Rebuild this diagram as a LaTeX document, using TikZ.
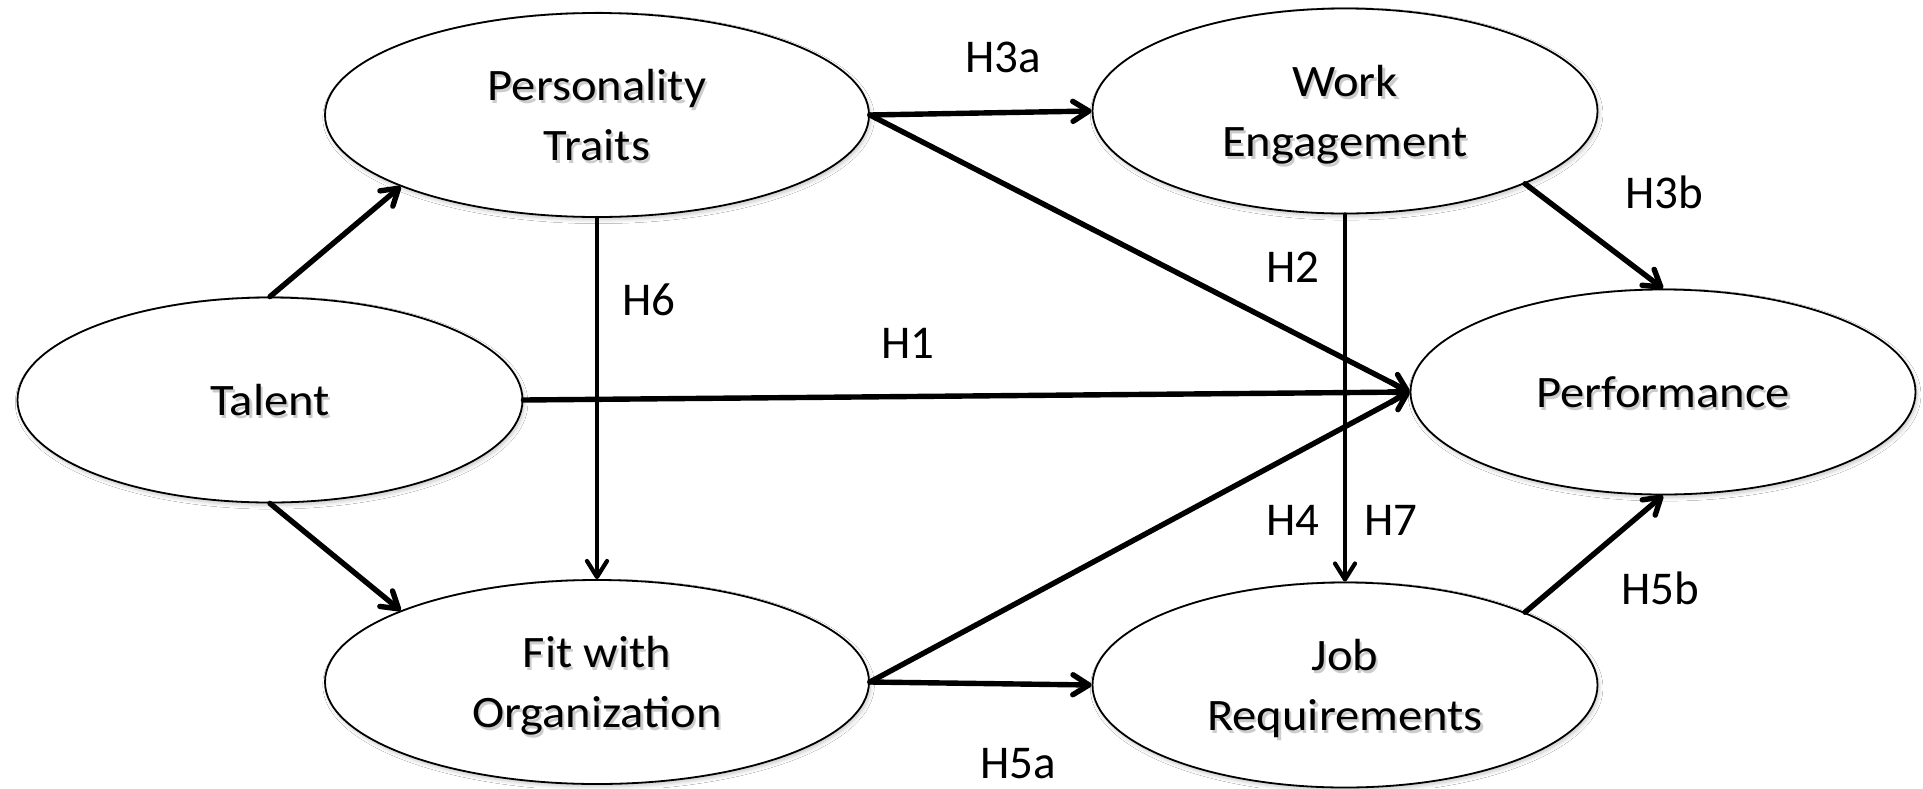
\documentclass[tikz,border=0pt]{standalone}
\usepackage{fontspec}
\setmainfont{Carlito}
\newfontfamily\nodefont[FakeStretch=1.08]{Carlito}
\usetikzlibrary{shapes.geometric,arrows.meta,shadows.blur}

% soft grey copy of a word, set just below and to the right of it
\newcommand\softshadow[1]{\leavevmode\rlap{\kern1.1pt\raisebox{-1.3pt}{\textcolor{black!20}{#1}}}#1}

\begin{document}
\begin{tikzpicture}[x=0.5pt,y=-0.5pt,
  latent/.style={ellipse, draw, line width=0.9pt, fill=white, inner sep=0pt,
    align=center, text depth=0pt,
    font=\nodefont\fontsize{22.5}{30}\selectfont,
    blur shadow={shadow xshift=0.8pt, shadow yshift=-1.4pt,
      shadow blur steps=6, shadow opacity=22}},
  wide/.style={minimum width=272pt, minimum height=102pt},
  narrow/.style={minimum width=252.5pt, minimum height=102.5pt},
  link/.style={line width=2.7pt, line cap=round,
    -{Straight Barb[length=8pt,width=10pt,round]}},
  vlink/.style={link, line width=2.1pt},
  hyp/.style={font=\fontsize{23.5}{28}\selectfont, inner sep=0pt}
]
\fill[white] (0,0) rectangle (1923,788);
\useasboundingbox (0,0) rectangle (1923,788);

% constructs
\node[latent,wide]   (pers) at (597,115)  {\softshadow{Personality}\\\softshadow{Traits}};
\node[latent,wide]   (fit)  at (597,682)  {\softshadow{Fit with}\\\softshadow{Organization}};
\node[latent,narrow] (tal)  at (270,400)  {\softshadow{Talent}};
\node[latent,narrow] (work) at (1345,111) {\softshadow{Work}\\\softshadow{Engagement}};
\node[latent,narrow] (perf) at (1663,392) {\softshadow{Performance}};
\node[latent,narrow] (job)  at (1345,685) {\softshadow{Job}\\\softshadow{Requirements}};

% hypothesised paths
\draw[link]  (tal.north)  -- (pers.200);
\draw[link]  (tal.south)  -- (fit.160);
\draw[vlink] (pers.south) -- (fit.north);
\draw[vlink] (work.south) -- (job.north);
\draw[link]  (tal.east)   -- (perf.west);
\draw[link]  (pers.east)  -- (work.west);
\draw[link]  (pers.east)  -- (perf.west);
\draw[link]  (fit.east)   -- (perf.west);
\draw[link]  (fit.east)   -- (job.west);
\draw[link]  (work.-22)   -- (perf.north);
\draw[link]  (job.22)     -- (perf.south);

% hypothesis labels
\node[hyp] (h3a) at (1003,57)  {H3a};
\node[hyp] (h3b) at (1664,192) {H3b};
\node[hyp] (h6)  at (649,300)  {H6};
\node[hyp] (h1)  at (908,343)  {H1};
\node[hyp] (h2)  at (1293,267) {H2};
\node[hyp] (h4)  at (1293,520) {H4};
\node[hyp] (h7)  at (1391,520) {H7};
\node[hyp] (h5b) at (1660,588) {H5b};
\node[hyp] (h5a) at (1018,764) {H5a};
\end{tikzpicture}
\end{document}
